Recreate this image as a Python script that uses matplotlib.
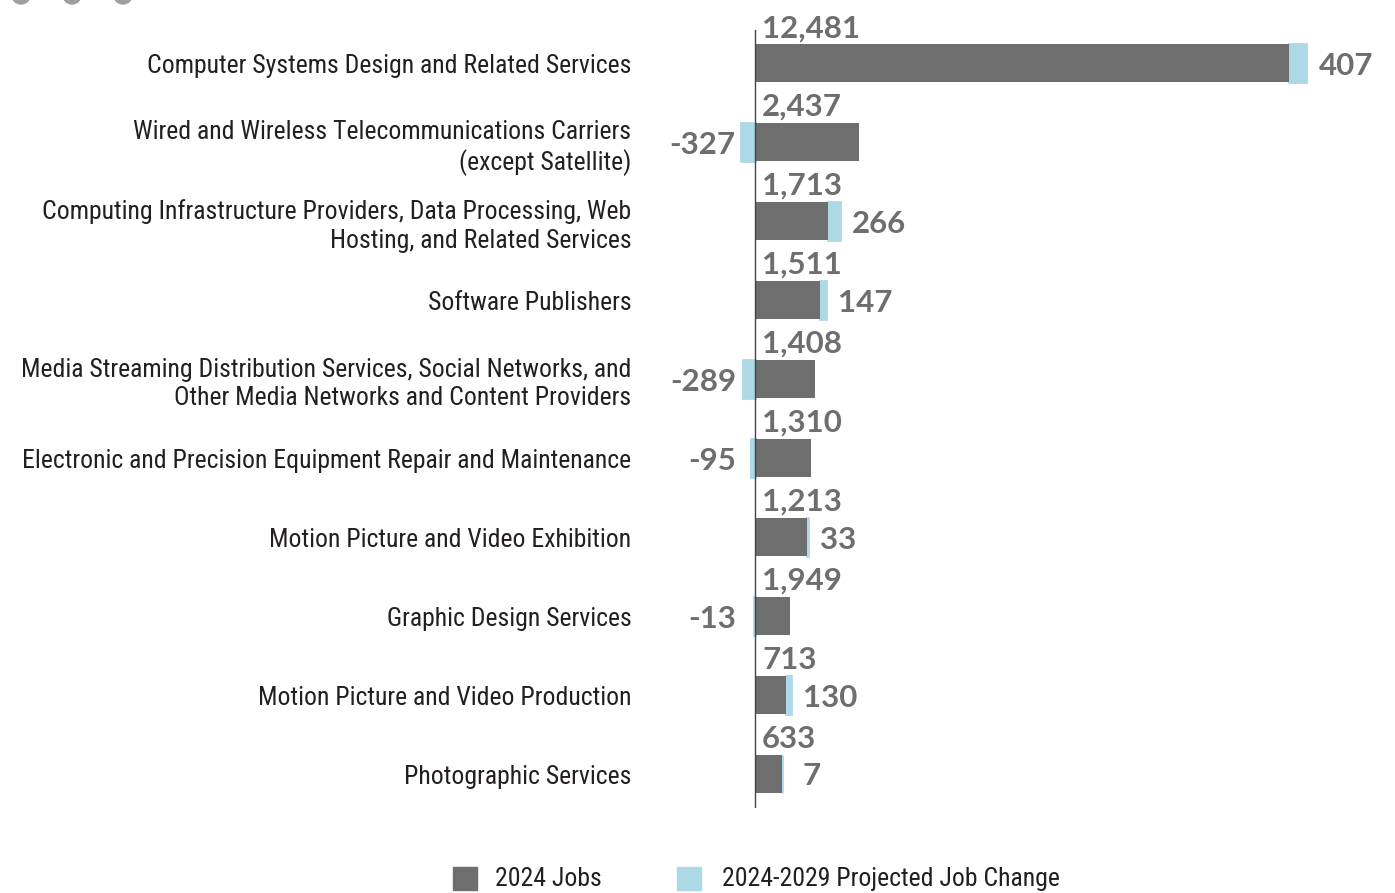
import matplotlib
matplotlib.use("Agg")
import matplotlib.pyplot as plt
from matplotlib import font_manager
from matplotlib.patches import Circle, Rectangle

# data
industries = [
    "Computer Systems Design and Related Services",
    "Wired and Wireless Telecommunications Carriers\n(except Satellite)",
    "Computing Infrastructure Providers, Data Processing, Web\nHosting, and Related Services",
    "Software Publishers",
    "Media Streaming Distribution Services, Social Networks, and\nOther Media Networks and Content Providers",
    "Electronic and Precision Equipment Repair and Maintenance",
    "Motion Picture and Video Exhibition",
    "Graphic Design Services",
    "Motion Picture and Video Production",
    "Photographic Services",
]
# bar lengths as drawn (graphic design bar is drawn shorter than its label)
jobs_2024 = [12481, 2437, 1713, 1511, 1408, 1310, 1213, 820, 713, 633]
jobs_labels = ["12,481", "2,437", "1,713", "1,511", "1,408", "1,310", "1,213", "1,949", "713", "633"]
job_change = [407, -327, 266, 147, -289, -95, 33, -13, 130, 7]

GRAY = "#6d6e6d"
BLUE = "#add8e6"
TEXT = "#231f20"

names = {f.name for f in font_manager.fontManager.ttflist}
cond_font = "DejaVu Sans"
for cand in ["Roboto Condensed", "Liberation Sans Narrow", "Open Sans Condensed", "Noto Sans Condensed"]:
    if cand in names:
        cond_font = cand
        break
num_font = "Lato" if "Lato" in names else "DejaVu Sans"

W, H = 1395, 893
fig = plt.figure(figsize=(W / 100, H / 100), dpi=100)

# axes: x pixels 655..1395, y pixels 30..808
ax_l, ax_r, ax_t, ax_b = 655, 1395, 30, 808
ax = fig.add_axes([ax_l / W, 1 - ax_b / H, (ax_r - ax_l) / W, (ax_b - ax_t) / H])
zero_px = 755
px_per_unit = 534 / 12481
ax.set_xlim(-(zero_px - ax_l) / px_per_unit, (ax_r - zero_px) / px_per_unit)
ax.set_ylim(9.43, -0.42)

ypos = list(range(len(industries)))
bh = 0.48
ax.barh(ypos, jobs_2024, height=bh, color=GRAY, zorder=2)
pos_left = [j if c > 0 else 0 for j, c in zip(jobs_2024, job_change)]
ax.barh(ypos, job_change, left=pos_left, height=bh, color=BLUE, zorder=1,
        edgecolor=BLUE, linewidth=2)

ax.axvline(0, color="#444444", lw=1.0, zorder=3)

unit = 1 / px_per_unit
num_fs = 22.5
for y, j, lab, c in zip(ypos, jobs_2024, jobs_labels, job_change):
    ax.text(7 * unit, y - bh / 2 - 0.09, lab, ha="left", va="baseline",
            fontsize=num_fs, fontweight="bold", color=GRAY, family=num_font)
    if c > 0:
        x = max(j + c, 36 * unit) + 12 * unit
        ax.text(x, y + 0.145, f"{c}", ha="left", va="baseline",
                fontsize=num_fs, fontweight="bold", color=GRAY, family=num_font)
    else:
        x = min(c, -13 * unit) - 6 * unit
        ax.text(x, y + 0.145, f"{c}", ha="right", va="baseline",
                fontsize=num_fs, fontweight="bold", color=GRAY, family=num_font)

ax.set_yticks(ypos)
ax.set_yticklabels(industries, fontsize=18.5, color=TEXT, family=cond_font,
                   linespacing=1.25)
ax.tick_params(axis="y", length=0, pad=17)
ax.set_xticks([])
for s in ax.spines.values():
    s.set_visible(False)

# legend
def fx(px):
    return px / W

def fy(py):
    return 1 - py / H

fig.patches.append(Rectangle((fx(453), fy(890)), 24 / W, 23 / H, color=GRAY,
                             transform=fig.transFigure))
fig.text(fx(495), fy(879), "2024 Jobs", fontsize=18.5, color=TEXT,
         family=cond_font, va="center")
fig.patches.append(Rectangle((fx(677), fy(890)), 24 / W, 23 / H, color=BLUE,
                             transform=fig.transFigure))
fig.text(fx(722), fy(879), "2024-2029 Projected Job Change", fontsize=18.5,
         color=TEXT, family=cond_font, va="center")

# the three dots cut off at the top-left corner
for cx in [21, 72, 123]:
    fig.patches.append(Circle((cx, H + 5), 9, color="#9e9e9e",
                              transform=None))

fig.savefig("out.png", dpi=100)
